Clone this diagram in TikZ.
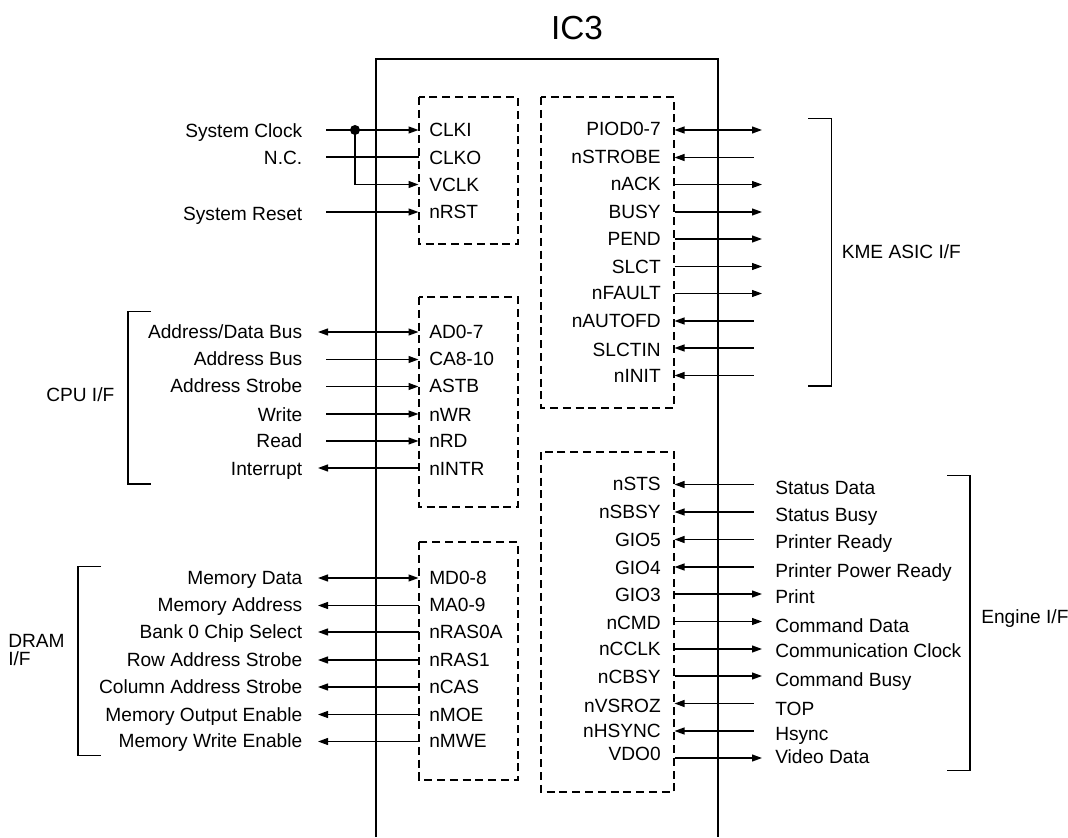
\documentclass[tikz,border=0pt]{standalone}
\usepackage{fontspec}
\setmainfont{Liberation Sans}
\usetikzlibrary{arrows.meta}
\tikzset{
  wire/.style={line width=1.05pt},
  tipto/.style={wire,-{Triangle[length=7.5pt,width=5.2pt]}},
  tipfrom/.style={wire,{Triangle[length=7.5pt,width=5.2pt]}-},
  tipboth/.style={wire,{Triangle[length=7.5pt,width=5.2pt]}-{Triangle[length=7.5pt,width=5.2pt]}},
  tipnone/.style={wire},
  dashbox/.style={line width=1pt,dash pattern=on 6pt off 3.6pt},
  brack/.style={line width=1pt},
  lbl/.style={inner sep=0pt,font=\fontsize{14.35pt}{16pt}\selectfont,text height=10.3pt,text depth=0pt},
  lbr/.style={lbl,anchor=east},
  lbe/.style={lbl,anchor=west},
}
\begin{document}
\begin{tikzpicture}[x=0.75pt,y=-0.75pt]
\useasboundingbox (0,0) rectangle (1068,838);
\node[inner sep=0pt,font=\fontsize{25pt}{28pt}\selectfont,text height=18pt,text depth=0pt] (title) at (577,28) {IC3};
% main chip outline, open at the bottom
\coordinate (chipBL) at (376,837);
\coordinate (chipTL) at (376,59);
\coordinate (chipTR) at (718,59);
\coordinate (chipBR) at (718,837);
\draw[line width=0.95pt] (chipBL) -- (chipTL) -- (chipTR) -- (chipBR);
% dashed blocks
\draw[dashbox] (419,97) rectangle (518,244);
\draw[dashbox] (419,297) rectangle (518,507);
\draw[dashbox] (419,542) rectangle (518,780);
\draw[dashbox] (541,97) rectangle (674,408);
\draw[dashbox] (541,452) rectangle (674,792);
% left side rows: index / wire y / outer label y / pin label y / outer text / pin text / style / free-end x
\foreach \i/\wy/\ly/\ry/\lt/\rt/\st/\fx in {
  a/130/131/130/System Clock/CLKI/tipto/326,
  b/157/157.5/157.5/N.C./CLKO/tipnone/326,
  d/212/214/212/System Reset/nRST/tipto/326,
  e/332/331.5/331.5/Address\slash Data Bus/AD0-7/tipboth/318,
  f/359.5/359/359/Address Bus/CA8-10/tipto/326,
  g/386.5/386/386/Address Strobe/ASTB/tipto/326,
  h/414/415/414.5/Write/nWR/tipto/326,
  i/441/441/441/Read/nRD/tipto/326,
  j/468/468.5/468.5/Interrupt/nINTR/tipfrom/318,
  k/578/578/578/Memory Data/MD0-8/tipboth/318,
  l/605.5/605/605/Memory Address/MA0-9/tipfrom/318,
  m/632/632/632/Bank 0 Chip Select/nRAS0A/tipfrom/318,
  n/660/660/660/Row Address Strobe/nRAS1/tipfrom/318,
  o/687/687/686.5/Column Address Strobe/nCAS/tipfrom/318,
  p/714.5/715/714.5/Memory Output Enable/nMOE/tipfrom/318,
  q/741.5/741/741/Memory Write Enable/nMWE/tipfrom/318}{
  \node[lbr] (out\i) at (302.5,\ly) {\lt};
  \node[lbe] (pin\i) at (429,\ry) {\rt};
  \coordinate (free\i) at (\fx,\wy);
  \coordinate (edge\i) at (418.5,\wy);
  \draw[\st] (free\i) -- (edge\i);
}
% system clock branch to VCLK
\node[lbe] (pinc) at (429,185) {VCLK};
\coordinate (edgec) at (418.5,184.5);
\coordinate (forkdown) at (355,184.5);
\coordinate (fork) at (355,130);
\fill (fork) circle (5);
\draw[tipto] (fork) -- (forkdown) -- (edgec);
% right side KME rows: index / wire y / pin label y / text / style / free-end x
\foreach \i/\wy/\ly/\rt/\st/\fx in {
  a/130/129/PIOD0-7/tipboth/762,
  b/157.5/157/nSTROBE/tipfrom/754,
  c/184.5/184/nACK/tipto/762,
  d/212/212/BUSY/tipto/762,
  e/239/238.5/PEND/tipto/762,
  f/266.5/267/SLCT/tipto/762,
  g/293.5/292.5/nFAULT/tipto/762,
  h/321/321/nAUTOFD/tipfrom/754,
  i/348/349.5/SLCTIN/tipfrom/754,
  j/375.5/375.5/nINIT/tipfrom/754}{
  \node[lbr] (kme\i) at (661,\ly) {\rt};
  \coordinate (kedge\i) at (674.5,\wy);
  \coordinate (kfree\i) at (\fx,\wy);
  \draw[\st] (kedge\i) -- (kfree\i);
}
% right side engine rows
\foreach \i/\wy/\ly/\oy/\rt/\ot/\st/\fx in {
  a/484.5/484/487.5/nSTS/Status Data/tipfrom/754,
  b/512/512/515/nSBSY/Status Busy/tipfrom/754,
  c/539.5/539.5/542/GIO5/Printer Ready/tipfrom/754,
  d/567/568/571/GIO4/Printer Power Ready/tipfrom/754,
  e/594/594.5/597/GIO3/Print/tipto/762,
  f/621.5/623/625.5/nCMD/Command Data/tipto/762,
  g/649/648.5/651/nCCLK/Communication Clock/tipto/762,
  h/676/677/680/nCBSY/Command Busy/tipto/762,
  i/703.5/706/708.5/nVSROZ/TOP/tipfrom/754,
  j/731/731/734/nHSYNC/Hsync/tipfrom/754,
  k/758/754/757/VDO0/Video Data/tipto/762}{
  \node[lbr] (eng\i) at (661,\ly) {\rt};
  \node[lbe] (sig\i) at (775,\oy) {\ot};
  \coordinate (eedge\i) at (674.5,\wy);
  \coordinate (efree\i) at (\fx,\wy);
  \draw[\st] (eedge\i) -- (efree\i);
}
% brackets
\draw[brack] (151,311.7) -- (128,311.7) -- (128,484) -- (151,484);
\draw[brack] (101,566.7) -- (78,566.7) -- (78,755.7) -- (101,755.7);
\draw[brack] (808,118.7) -- (831.5,118.7) -- (831.5,386) -- (808,386);
\draw[brack] (947,475.7) -- (970,475.7) -- (970,770.7) -- (947,770.7);
% group labels
\node[lbe] (kmelabel) at (841.5,251.5) {KME ASIC I/F};
\node[lbe] (englabel) at (981,616.5) {Engine I/F};
\node[lbe] (cpulabel) at (46,394.5) {CPU I/F};
\node[lbe] (dramlabel) at (8,641) {DRAM};
\node[lbe] (dramif) at (8,659) {I/F};
\end{tikzpicture}
\end{document}
